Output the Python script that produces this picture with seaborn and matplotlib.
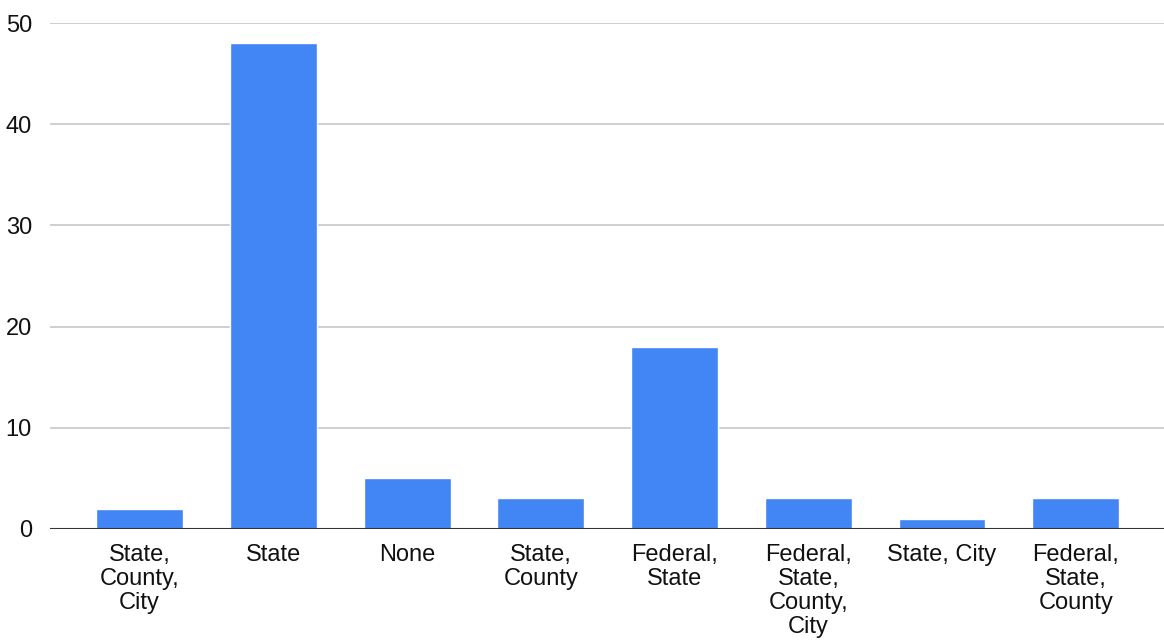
import matplotlib
matplotlib.use("Agg")
import matplotlib.pyplot as plt
import seaborn as sns
import pandas as pd

categories = [
    "State,\nCounty,\nCity",
    "State",
    "None",
    "State,\nCounty",
    "Federal,\nState",
    "Federal,\nState,\nCounty,\nCity",
    "State, City",
    "Federal,\nState,\nCounty",
]
counts = [2, 48, 5, 3, 18, 3, 1, 3]
y_ticks = [0, 10, 20, 30, 40, 50]

df = pd.DataFrame({"category": categories, "count": counts})

sns.set_theme(style="white")
plt.rcParams["font.family"] = ["Liberation Sans", "DejaVu Sans"]

fig = plt.figure(figsize=(11.64, 6.41), dpi=100)
ax = fig.add_axes([0.043, 0.175, 0.957, 0.789])

sns.barplot(data=df, x="category", y="count", color="#4285F4",
            saturation=1, width=0.65, ax=ax, zorder=3)

ax.set_ylim(0, 50)
ax.set_xlim(-0.67, 7.66)
ax.set_yticks(y_ticks)
ax.yaxis.grid(True, color="#cccccc", linewidth=1.3, zorder=0)
ax.xaxis.grid(False)
ax.axhline(0, color="#333333", linewidth=1.5, zorder=4)

for s in ax.spines.values():
    s.set_visible(False)

ax.set_xlabel("")
ax.set_ylabel("")
ax.tick_params(axis="both", length=0, labelsize=17, colors="#111111")
ax.tick_params(axis="x", pad=11)
ax.tick_params(axis="y", pad=13)
for lbl in ax.get_xticklabels():
    lbl.set_linespacing(1.12)
    lbl.set_horizontalalignment("center")

fig.savefig("out.png", dpi=100, facecolor="white")
